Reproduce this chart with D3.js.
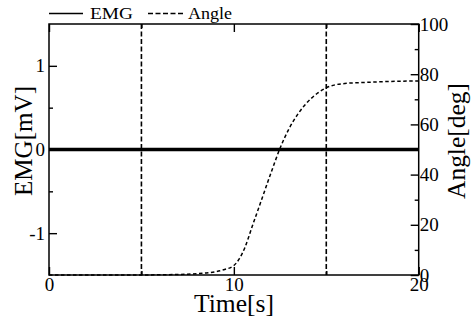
<!DOCTYPE html>
<html>
<head>
<meta charset="utf-8">
<script src="https://cdn.jsdelivr.net/npm/d3@7"></script>
<style>
  html, body { margin: 0; padding: 0; background: #fff; }
  svg { display: block; }
  text { font-family: "Liberation Serif", "Times New Roman", serif; fill: #000; }
</style>
</head>
<body>
<svg id="chart" width="471" height="320"></svg>
<script>
// Recorded signals: time [s], knee angle [deg], EMG [mV]
const timeS    = [0, 1, 2, 3, 4, 5, 6, 7, 7.5, 8, 8.5, 9, 9.5, 10, 10.3, 10.6, 11, 11.5, 12, 12.5, 13, 13.5, 14, 14.5, 15, 15.5, 16, 17, 18, 19, 20];
const angleDeg = [0, 0, 0, 0, 0, 0, 0.1, 0.2, 0.3, 0.5, 0.8, 1.3, 2.2, 3.8, 6.5, 11, 19.5, 30, 40.5, 50.5, 58.5, 64.5, 69, 72.3, 74.6, 75.8, 76.3, 76.7, 77, 77.2, 77.3];
const emgMv    = [0, 0, 0, 0, 0, 0, 0, 0, 0, 0, 0, 0, 0, 0, 0, 0, 0, 0, 0, 0, 0, 0, 0, 0, 0, 0, 0, 0, 0, 0, 0];

// Event markers (time of onset / end of motion)
const markerTimes = [5, 15];

// Axis ticks
const timeMajorTicks  = [0, 10, 20];
const timeMinorTicks  = [5, 15];
const emgMajorTicks   = [-1, 0, 1];
const emgMinorTicks   = [-0.5, 0.5];
const angleMajorTicks = [0, 20, 40, 60, 80, 100];
const angleMinorTicks = [10, 30, 50, 70, 90];

const legendLabels = ["EMG", "Angle"];

const svg = d3.select("#chart");
const L = 49, R = 418.7, T = 24, B = 275;
const serif = '"Liberation Serif", "Times New Roman", serif';

const x = d3.scaleLinear().domain([0, 20]).range([L, R]);
const yEmg = d3.scaleLinear().domain([-1.5, 1.5]).range([B, T]);
const yAng = d3.scaleLinear().domain([0, 100]).range([B, T]);

// plain hyphen for negative numbers
const fmt = d => String(d);
const tickFont = 19;

function styleAxis(g) {
  g.attr("font-family", serif).attr("font-size", tickFont);
  g.select(".domain").remove();
  g.selectAll(".tick line").attr("stroke", "#000").attr("stroke-width", 1.4);
  g.selectAll(".tick text")
    .attr("font-family", serif)
    .style("font-family", serif)
    .style("font-size", tickFont + "px")
    .attr("fill", "#000");
}

// Bottom axis (ticks point inward)
svg.append("g").attr("transform", `translate(0,${B})`)
  .call(d3.axisBottom(x).tickValues(timeMajorTicks).tickSizeInner(-8).tickSizeOuter(0).tickPadding(2).tickFormat(fmt))
  .call(styleAxis);
svg.append("g").attr("transform", `translate(0,${B})`)
  .call(d3.axisBottom(x).tickValues(timeMinorTicks).tickSizeInner(-4).tickSizeOuter(0).tickFormat(""))
  .call(styleAxis);

// Top axis (ticks only)
svg.append("g").attr("transform", `translate(0,${T})`)
  .call(d3.axisTop(x).tickValues(timeMajorTicks).tickSizeInner(-8).tickSizeOuter(0).tickFormat(""))
  .call(styleAxis);
svg.append("g").attr("transform", `translate(0,${T})`)
  .call(d3.axisTop(x).tickValues(timeMinorTicks).tickSizeInner(-4).tickSizeOuter(0).tickFormat(""))
  .call(styleAxis);

// Left axis: EMG
svg.append("g").attr("transform", `translate(${L},0)`)
  .call(d3.axisLeft(yEmg).tickValues(emgMajorTicks).tickSizeInner(-8).tickSizeOuter(0).tickPadding(4).tickFormat(fmt))
  .call(styleAxis);
svg.append("g").attr("transform", `translate(${L},0)`)
  .call(d3.axisLeft(yEmg).tickValues(emgMinorTicks).tickSizeInner(-4).tickSizeOuter(0).tickFormat(""))
  .call(styleAxis);

// Right axis: Angle
svg.append("g").attr("transform", `translate(${R},0)`)
  .call(d3.axisRight(yAng).tickValues(angleMajorTicks).tickSizeInner(-8).tickSizeOuter(0).tickPadding(1).tickFormat(fmt))
  .call(styleAxis);
svg.append("g").attr("transform", `translate(${R},0)`)
  .call(d3.axisRight(yAng).tickValues(angleMinorTicks).tickSizeInner(-4).tickSizeOuter(0).tickFormat(""))
  .call(styleAxis);

// Plot frame
svg.append("rect")
  .attr("x", L).attr("y", T).attr("width", R - L).attr("height", B - T)
  .attr("fill", "none").attr("stroke", "#000").attr("stroke-width", 1.5);

// Event marker lines
svg.append("g").selectAll("line").data(markerTimes).join("line")
  .attr("x1", d => x(d)).attr("x2", d => x(d))
  .attr("y1", T).attr("y2", B)
  .attr("stroke", "#000").attr("stroke-width", 1.6)
  .attr("stroke-dasharray", "5,2.5");

// Angle trace
const rows = timeS.map((t, i) => ({ t, a: angleDeg[i], e: emgMv[i] }));
svg.append("path").datum(rows)
  .attr("fill", "none").attr("stroke", "#000").attr("stroke-width", 1.5)
  .attr("stroke-dasharray", "3.5,2.5")
  .attr("d", d3.line().x(d => x(d.t)).y(d => yAng(d.a)).curve(d3.curveMonotoneX));

// EMG trace
svg.append("path").datum(rows)
  .attr("fill", "none").attr("stroke", "#000").attr("stroke-width", 3.5)
  .attr("d", d3.line().x(d => x(d.t)).y(d => yEmg(d.e)));

// Axis titles
svg.append("text")
  .attr("x", 234).attr("y", 312)
  .attr("text-anchor", "middle")
  .attr("textLength", 80).attr("lengthAdjust", "spacingAndGlyphs")
  .style("font-size", "25px")
  .text("Time[s]");

svg.append("text")
  .attr("transform", "translate(32,141) rotate(-90)")
  .attr("text-anchor", "middle")
  .attr("textLength", 110).attr("lengthAdjust", "spacingAndGlyphs")
  .style("font-size", "25px")
  .text("EMG[mV]");

svg.append("text")
  .attr("transform", "translate(465,141) rotate(-90)")
  .attr("text-anchor", "middle")
  .attr("textLength", 116).attr("lengthAdjust", "spacingAndGlyphs")
  .style("font-size", "25px")
  .text("Angle[deg]");

// Legend
const legend = svg.append("g");
legend.append("line")
  .attr("x1", 49).attr("x2", 83).attr("y1", 13.5).attr("y2", 13.5)
  .attr("stroke", "#000").attr("stroke-width", 1.3);
legend.append("text")
  .attr("x", 90).attr("y", 19)
  .attr("textLength", 43).attr("lengthAdjust", "spacingAndGlyphs")
  .style("font-size", "16px")
  .text(legendLabels[0]);
legend.append("line")
  .attr("x1", 148).attr("x2", 184).attr("y1", 13.5).attr("y2", 13.5)
  .attr("stroke", "#000").attr("stroke-width", 1.3)
  .attr("stroke-dasharray", "5,2.5");
legend.append("text")
  .attr("x", 188).attr("y", 19)
  .attr("textLength", 44).attr("lengthAdjust", "spacingAndGlyphs")
  .style("font-size", "16px")
  .text(legendLabels[1]);
</script>
</body>
</html>
